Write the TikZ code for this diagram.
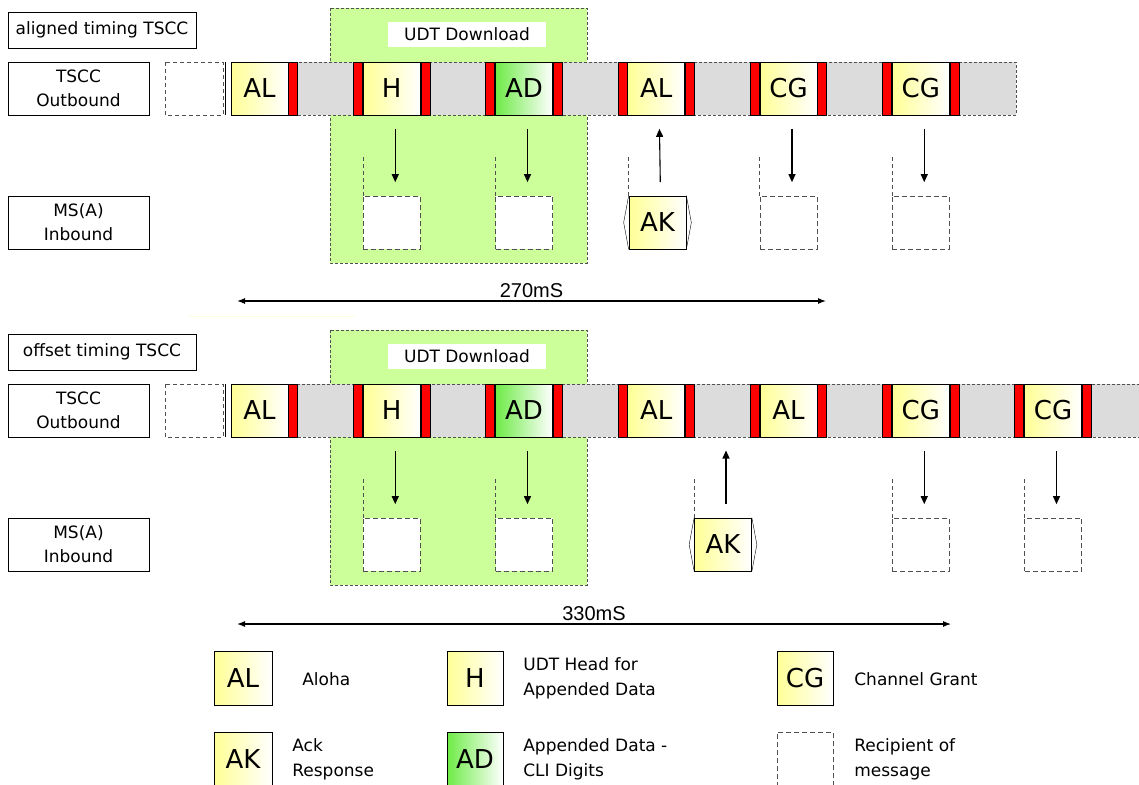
\documentclass[tikz,border=0pt]{standalone}
\usepackage{fontspec}
\setmainfont{DejaVu Sans}
\newfontfamily\spanfont{Liberation Sans}
\usetikzlibrary{positioning, calc, arrows.meta}
\definecolor{udtgreen}{RGB}{204,255,153}
\definecolor{alyellow}{RGB}{255,255,150}
\definecolor{adgreen}{RGB}{110,235,70}
\definecolor{stripgray}{RGB}{220,220,220}
\definecolor{dashgray}{RGB}{80,80,80}

\begin{document}
\begin{tikzpicture}[x=1pt, y=-1pt, line width=0.7pt,
  lbox/.style={draw, inner sep=0pt, align=center, font=\fontsize{17}{24}\selectfont},
  slot/.style={draw, minimum width=57pt, minimum height=53pt, inner sep=0pt, left color=alyellow, right color=white, font=\fontsize{26}{26}\selectfont},
  redbar/.style={draw, fill=red, minimum width=9pt, minimum height=53pt, inner sep=0pt},
  rcpt/.style={draw=dashgray, fill=white, dash pattern=on 5pt off 3pt, minimum width=57pt, minimum height=53pt, inner sep=0pt},
  rline/.style={draw=dashgray, dash pattern=on 4pt off 3pt},
  udt/.style={draw=dashgray, dash pattern=on 3pt off 2pt, fill=udtgreen},
  strip/.style={draw=dashgray, dash pattern=on 3pt off 2pt, fill=stripgray},
  udtlabel/.style={fill=white, minimum width=158pt, minimum height=25pt, inner sep=0pt, font=\fontsize{17}{20}\selectfont},
  msg/.style={-{Triangle[length=8pt,width=7pt]}, line width=1.1pt, shorten <=13.5pt, shorten >=13.5pt},
  span/.style={{Latex[length=8pt,width=6pt]}-{Latex[length=8pt,width=6pt]}, line width=1.1pt},
  spanlabel/.style={above=2pt, inner sep=1pt, font=\spanfont\fontsize{20}{20}\selectfont},
  ltext/.style={anchor=west, align=left, inner sep=0pt, font=\fontsize{17}{25}\selectfont}
]
\useasboundingbox (0,0) rectangle (1139,784);

\node[lbox, minimum width=188pt, minimum height=36pt] (hdtop) at (102,30) {aligned timing TSCC};
\node[lbox, minimum width=141pt, minimum height=53pt] (outtop) at (78.5,88.5) {TSCC\\Outbound};
\node[lbox, minimum width=141pt, minimum height=53pt] (intop) at (78.5,222.5) {MS(A)\\Inbound};

\path[udt] (330,8) rectangle (587,263);
\node[udtlabel] (udttop) at (467,34.5) {UDT Download};
\path[rline] (165,62) rectangle (223,115);
\draw (225,62) -- (225,115);
\path[strip] (231,62) rectangle (1016,115);

\foreach \n/\lab/\col in {0/AL/alyellow, 1/H/alyellow, 2/AD/adgreen, 3/AL/alyellow, 4/CG/alyellow, 5/CG/alyellow} {
  \node[slot, left color=\col] (t\n) at ({259.5+132.25*\n},88.5) {\lab};
  \node[redbar, right=0pt of t\n] (tr\n) {};
  \ifnum\n>0 \node[redbar, left=0pt of t\n] (tl\n) {}; \fi
}

\foreach \n in {1,2,4,5} {
  \node[rcpt] (rt\n) at ({259.5+132.25*\n},222.5) {};
  \path[rline] (rt\n.north west) -- ++(0,-40);
  \draw[msg] ($(t\n.south)+(3.5,0)$) -- ($(rt\n.north)+(3.5,0)$);
}
\node[slot] (akt) at (657.5,222.5) {AK};
\draw[thin] (akt.north west) -- ([xshift=-5pt]akt.west) -- (akt.south west);
\draw[thin] (akt.north east) -- ([xshift=5pt]akt.east) -- (akt.south east);
\path[rline] (akt.north west) -- ++(0,-40);
\draw[msg] ($(akt.north)+(3,0)$) -- ($(t3.south)+(3,0)$);

\coordinate (a270) at (237,301);
\coordinate (b270) at (826,301);
\draw[span] (a270) -- node[spanlabel] (l270) {270mS} (b270);
\draw[yellow!12, line width=1pt] (187,316) -- (355,316);

\node[lbox, minimum width=188pt, minimum height=36pt] (hdbot) at (102,352) {offset timing TSCC};
\node[lbox, minimum width=141pt, minimum height=53pt] (outbot) at (78.5,410.5) {TSCC\\Outbound};
\node[lbox, minimum width=141pt, minimum height=53pt] (inbot) at (78.5,544.5) {MS(A)\\Inbound};

\path[udt] (330,330) rectangle (587,585);
\node[udtlabel] (udtbot) at (467,356.5) {UDT Download};
\path[rline] (165,384) rectangle (223,437);
\draw (225,384) -- (225,437);
\path[strip] (231,384) rectangle (1150,437);

\foreach \n/\lab/\col in {0/AL/alyellow, 1/H/alyellow, 2/AD/adgreen, 3/AL/alyellow, 4/AL/alyellow, 5/CG/alyellow, 6/CG/alyellow} {
  \node[slot, left color=\col] (b\n) at ({259.5+132.25*\n},410.5) {\lab};
  \node[redbar, right=0pt of b\n] (br\n) {};
  \ifnum\n>0 \node[redbar, left=0pt of b\n] (bl\n) {}; \fi
}

\foreach \n in {1,2,5,6} {
  \node[rcpt] (rb\n) at ({259.5+132.25*\n},544.5) {};
  \path[rline] (rb\n.north west) -- ++(0,-40);
  \draw[msg] ($(b\n.south)+(3.5,0)$) -- ($(rb\n.north)+(3.5,0)$);
}
\node[slot] (akb) at (723,544.5) {AK};
\draw[thin] (akb.north west) -- ([xshift=-5pt]akb.west) -- (akb.south west);
\draw[thin] (akb.north east) -- ([xshift=5pt]akb.east) -- (akb.south east);
\path[rline] (akb.north west) -- ++(0,-40);
\coordinate (gapb) at (726,437);
\draw[msg] ($(akb.north)+(3,0)$) -- (gapb);

\coordinate (a330) at (237,624);
\coordinate (b330) at (951,624);
\draw[span] (a330) -- node[spanlabel] (l330) {330mS} (b330);

\node[slot, minimum width=58pt, minimum height=54pt] (kal) at (243,678) {AL};
\node[ltext] (tal) at (302,679) {Aloha};
\node[slot, minimum width=56pt, minimum height=54pt] (kh) at (475,678) {H};
\node[ltext] (th) at (523,678) {UDT Head for\\Appended Data};
\node[slot, minimum width=56pt, minimum height=54pt] (kcg) at (805,678) {CG};
\node[ltext] (tcg) at (854,679) {Channel Grant};
\node[slot, minimum width=58pt, minimum height=54pt] (kak) at (243,759) {AK};
\node[ltext] (tak) at (292,759) {Ack\\Response};
\node[slot, left color=adgreen, minimum width=56pt, minimum height=54pt] (kad) at (475,759) {AD};
\node[ltext] (tad) at (523,759) {Appended Data -\\CLI Digits};
\node[rcpt, minimum width=56pt, minimum height=54pt] (krc) at (805,759) {};
\node[ltext] (trc) at (854,759) {Recipient of\\message};
\end{tikzpicture}
\end{document}
